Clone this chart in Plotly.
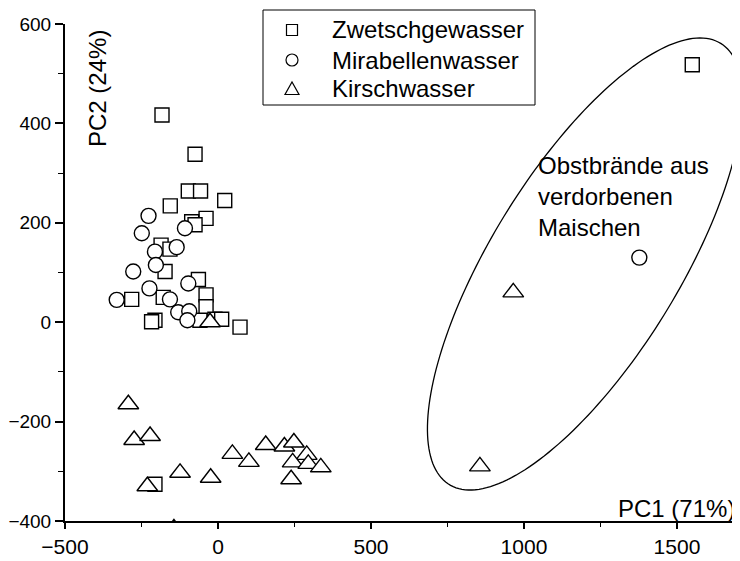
import numpy as np
import plotly.graph_objects as go

# --- data ---
zw_x = [-183, -75, -97, -57, 22, -156, -39, -86, -75, -186, -157, -173, -64, -39, -39,
        -282, -179, -206, -217, -59, -10, 12, 72, -206, 1550]
zw_y = [417, 338, 264, 264, 245, 234, 209, 202, 196, 155, 147, 102, 86, 55, 31,
        46, 50, 4, 1, 4, 6, 6, -10, -326, 518]

mi_x = [-227, -249, -108, -135, -206, -203, -277, -224, -331, -157, -97, -130, -94, -100, 1377]
mi_y = [214, 179, 189, 151, 142, 115, 102, 68, 45, 46, 78, 20, 22, 4, 130]

ki_x = [-293, -274, -222, -231, -124, -24, 47, 101, 156, 217, 248, 290, 244, 295, 336, 239,
        -144, -26, 965, 856]
ki_y = [-165, -237, -229, -330, -303, -313, -265, -281, -247, -250, -242, -267, -282, -285,
        -292, -316, -415, 0, 60, -290]

series_names = ["Zwetschgewasser", "Mirabellenwasser", "Kirschwasser"]
x_ticks = [-500, 0, 500, 1000, 1500]
y_ticks = [-400, -200, 0, 200, 400, 600]

# --- layout geometry (page has an 8px body margin) ---
OFF = 8
W, H = 740 - OFF, 561 - OFF
ML, MR, MT, MB = 65 - OFF, 0, 24 - OFF, 40
X_RANGE = [-500, 1706]
Y_RANGE = [-400, 600]
pw = W - ML - MR
ph = H - MT - MB
sx = pw / (X_RANGE[1] - X_RANGE[0])
sy = ph / (Y_RANGE[1] - Y_RANGE[0])


def px(xr):  # window pixel x -> paper
    return (xr - OFF - ML) / pw


def py(yr):  # window pixel y -> paper
    return (H - MB - (yr - OFF)) / ph


FONT = "Liberation Sans, Arial, sans-serif"

fig = go.Figure()
mk_line = dict(color="black", width=1.4)
fig.add_trace(go.Scatter(x=zw_x, y=zw_y, mode="markers", name=series_names[0],
                         marker=dict(symbol="square", size=14, color="white", line=mk_line)))
fig.add_trace(go.Scatter(x=mi_x, y=mi_y, mode="markers", name=series_names[1],
                         marker=dict(symbol="circle", size=15, color="white", line=mk_line)))
fig.add_trace(go.Scatter(x=ki_x, y=ki_y, mode="markers", name=series_names[2],
                         marker=dict(symbol="triangle-up", size=18, color="white", line=mk_line)))

# ellipse (window-pixel geometry converted into data coordinates)
cx_px, cy_px = 585, 264
a_px, b_px, ang = 259, 94, np.deg2rad(58.4)
t = np.linspace(0, 2 * np.pi, 200)
u = a_px * np.cos(t)
v = b_px * np.sin(t)
dx = u * np.cos(ang) - v * np.sin(ang)
dy = u * np.sin(ang) + v * np.cos(ang)  # upward
ex = X_RANGE[0] + (cx_px - OFF - ML + dx) / sx
ey = Y_RANGE[1] - (cy_px - OFF - MT - dy) / sy
path = "M " + " L ".join(f"{a:.2f},{b:.2f}" for a, b in zip(ex, ey)) + " Z"
fig.add_shape(type="path", path=path, xref="x", yref="y",
              line=dict(color="black", width=1.3), layer="below")

# --- legend drawn as box + symbols + text ---
shapes = []
annotations = []
LEG_L, LEG_T, LEG_R, LEG_B = 263, 10, 535, 105
shapes.append(dict(type="rect", xref="paper", yref="paper",
                   x0=px(LEG_L), x1=px(LEG_R), y0=py(LEG_B), y1=py(LEG_T),
                   line=dict(color="black", width=1), fillcolor="white", layer="above"))
row_y = [30, 60, 89]
sym_x = 292
lk = dict(color="black", width=1.2)
shapes.append(dict(type="rect", xref="paper", yref="paper",
                   x0=px(sym_x - 5.5), x1=px(sym_x + 5.5),
                   y0=py(row_y[0] + 5.5), y1=py(row_y[0] - 5.5), line=lk, layer="above"))
shapes.append(dict(type="circle", xref="paper", yref="paper",
                   x0=px(sym_x - 6), x1=px(sym_x + 6),
                   y0=py(row_y[1] + 6), y1=py(row_y[1] - 6), line=lk, layer="above"))
ty = row_y[2]
tri = (f"M {px(sym_x - 7):.5f},{py(ty + 5.5):.5f} L {px(sym_x + 7):.5f},{py(ty + 5.5):.5f} "
       f"L {px(sym_x):.5f},{py(ty - 7):.5f} Z")
shapes.append(dict(type="path", xref="paper", yref="paper", path=tri, line=lk, layer="above"))
for name, ry in zip(series_names, row_y):
    annotations.append(dict(text=name, xref="paper", yref="paper", x=px(330), y=py(ry),
                            xanchor="left", yanchor="middle", showarrow=False,
                            font=dict(size=24)))

annotations += [
    dict(text="PC2 (24%)", xref="paper", yref="paper", x=px(82),
         y=py(28), xanchor="left", yanchor="top", textangle=-90,
         showarrow=False, font=dict(size=24)),
    dict(text="PC1 (71%)", xref="paper", yref="paper", x=px(737),
         y=py(524), xanchor="right", yanchor="bottom",
         showarrow=False, font=dict(size=24)),
    dict(text="Obstbrände aus<br>verdorbenen<br>Maischen", xref="paper", yref="paper",
         x=px(536), y=py(150), xanchor="left", yanchor="top",
         align="left", showarrow=False, font=dict(size=24)),
]

for sh in shapes:
    fig.add_shape(**sh)

fig.update_layout(
    width=W, height=H,
    margin=dict(l=ML, r=MR, t=MT, b=MB, autoexpand=False),
    plot_bgcolor="white", paper_bgcolor="white",
    font=dict(family=FONT, color="black", size=21),
    showlegend=False,
    xaxis=dict(range=X_RANGE, tickvals=x_ticks, showgrid=False, zeroline=False,
               automargin=False,
               showline=True, linecolor="black", linewidth=2,
               ticks="outside", ticklen=6, tickwidth=1.5, tickcolor="black",
               tickfont=dict(size=21),
               minor=dict(ticks="outside", ticklen=4, tickwidth=1, dtick=250,
                          tick0=-500, tickcolor="black")),
    yaxis=dict(range=Y_RANGE, tickvals=y_ticks, showgrid=False, zeroline=False,
               automargin=False, ticklabelstandoff=0,
               showline=True, linecolor="black", linewidth=2,
               ticks="outside", ticklen=8, tickwidth=1.5, tickcolor="black",
               tickfont=dict(size=19),
               minor=dict(ticks="outside", ticklen=5, tickwidth=1, dtick=100,
                          tick0=-400, tickcolor="black")),
    annotations=annotations,
)

fig.write_html("out.html")
